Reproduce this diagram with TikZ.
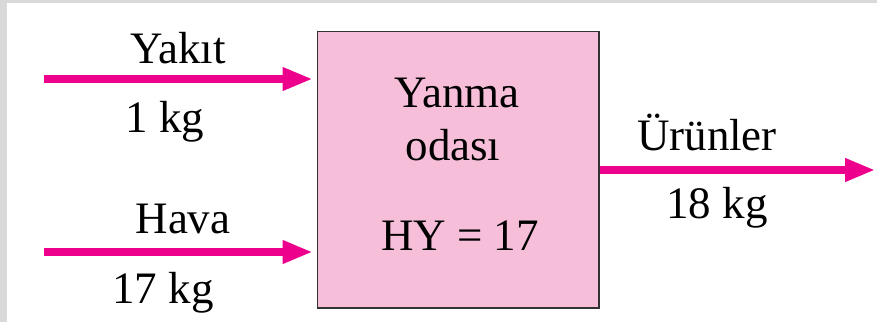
\documentclass[tikz,border=0pt]{standalone}
\usepackage{fontspec}
\setmainfont{Liberation Serif}
\usepackage{tikz}
\usetikzlibrary{arrows.meta}
\definecolor{flowpink}{HTML}{EC008C}
\definecolor{boxpink}{HTML}{F7BED9}
\definecolor{framegray}{HTML}{D9D9D9}
\tikzstyle{arrow} = [line width=4pt, flowpink, -{Triangle[length=0.6cm,width=0.44cm]}]
\tikzstyle{lbl} = [inner sep=0pt, anchor=base]

\begin{document}
\begin{tikzpicture}[x=0.02cm, y=-0.02cm, font=\fontsize{25.6pt}{30pt}\selectfont]
    \useasboundingbox (0,0) rectangle (877,322);
    \fill[framegray] (0,0) rectangle (877,3);
    \fill[framegray] (0,0) rectangle (7,322);

    % Chamber
    \node (chamber) [draw=black!80, line width=0.6pt, fill=boxpink,
        minimum width=5.64cm, minimum height=5.54cm, inner sep=0pt] at (458,169.5) {};
    \node (yanma) [lbl] at (457,107) {Yanma};
    \node (odasi) [lbl] at (453,160) {odası};
    \node (ratio) [lbl] at (460,250) {HY = 17};

    % Inlets
    \coordinate (fuelin) at (44,79);
    \coordinate (airin) at (44,252);
    \coordinate (prodout) at (875,170);
    \draw[arrow, shorten >=0.08cm] (fuelin) -- (chamber.west |- fuelin);
    \draw[arrow, shorten >=0.08cm] (airin) -- (chamber.west |- airin);
    \draw[arrow] (chamber.east |- prodout) -- (prodout);

    % Labels
    \node (fuel) [lbl] at (178,63) {Yakıt};
    \node (fuelkg) [lbl] at (165,132) {1 kg};
    \node (air) [lbl] at (183,233) {Hava};
    \node (airkg) [lbl] at (163,303) {17 kg};
    \node (prod) [lbl] at (707,150) {Ürünler};
    \node (prodkg) [lbl] at (717,218) {18 kg};
\end{tikzpicture}
\end{document}
